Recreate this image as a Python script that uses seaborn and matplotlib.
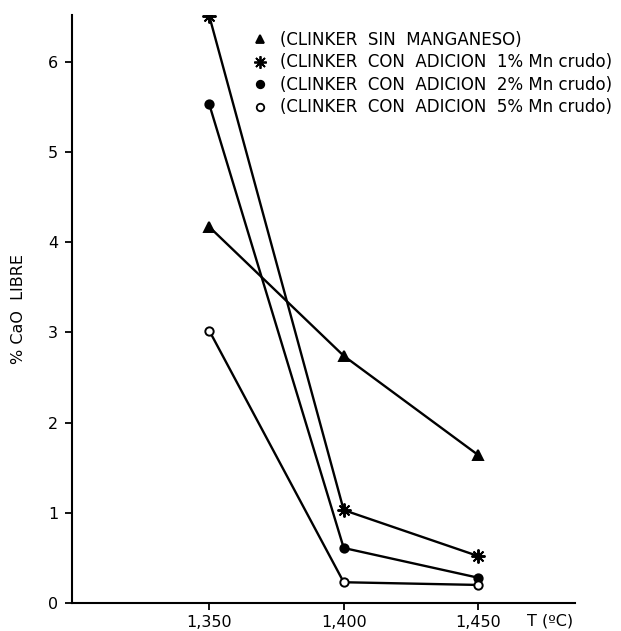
import matplotlib
matplotlib.use("Agg")
import matplotlib.pyplot as plt
from matplotlib.lines import Line2D
import seaborn as sns
import pandas as pd

temps = [1350, 1400, 1450]
sin_mn = [4.17, 2.74, 1.64]
mn_1 = [6.51, 1.03, 0.52]
mn_2 = [5.53, 0.61, 0.28]
mn_5 = [3.02, 0.23, 0.20]
labels = ["(CLINKER  SIN  MANGANESO)",
          "(CLINKER  CON  ADICION  1% Mn crudo)",
          "(CLINKER  CON  ADICION  2% Mn crudo)",
          "(CLINKER  CON  ADICION  5% Mn crudo)"]
xtick_labels = ["1,350", "1,400", "1,450"]
ytick_vals = [0, 1, 2, 3, 4, 5, 6]

sns.set_theme(style="white")
plt.rcParams['font.family'] = ['DejaVu Sans']
plt.rcParams['text.color'] = 'black'
plt.rcParams['axes.labelcolor'] = 'black'

fig = plt.figure(figsize=(6.21, 6.31), dpi=100)
ax = fig.add_axes([0.116, 0.0444, 0.81, 0.932])

series = [sin_mn, mn_1, mn_2, mn_5]
markers = ["^", (8, 2, 0), "o", "o"]
mfc = ["black", "black", "black", "white"]
msizes = [7, 10, 6, 6]

for vals, m, fc, ms in zip(series, markers, mfc, msizes):
    df = pd.DataFrame({"T": temps, "CaO": vals})
    sns.lineplot(data=df, x="T", y="CaO", ax=ax, color="black", linewidth=1.7,
                 marker=m, markersize=ms, markerfacecolor=fc,
                 markeredgecolor="black", markeredgewidth=1.4, legend=False)

ax.set_xlim(1299, 1486)
ax.set_ylim(0, 6.52)
ax.set_xticks(temps)
ax.set_xticklabels(xtick_labels)
ax.set_yticks(ytick_vals)
ax.set_xlabel("")
ax.set_ylabel("% CaO  LIBRE", fontsize=11.5, labelpad=16)
for s in ["top", "right"]:
    ax.spines[s].set_visible(False)
for s in ["left", "bottom"]:
    ax.spines[s].set_color("black")
    ax.spines[s].set_linewidth(1.5)
ax.tick_params(axis="both", which="both", direction="out", length=5, width=1.3,
               colors="black", labelsize=11.5, bottom=True, left=True)
ax.tick_params(axis="x", pad=4)
ax.tick_params(axis="y", pad=5)

ax.text(1468, -0.2, "T (ºC)", fontsize=11.5, ha="left", va="center", transform=ax.transData)

handles = [Line2D([], [], linestyle="none", marker=m, markersize=ms * 0.9,
                  markerfacecolor=fc, markeredgecolor="black", markeredgewidth=1.3, color="black")
           for m, fc, ms in zip(markers, mfc, msizes)]
leg = ax.legend(handles, labels, loc="upper left", bbox_to_anchor=(0.343, 0.984),
                frameon=False, fontsize=12, handlelength=1.0, handletextpad=0.7,
                labelspacing=0.27, borderaxespad=0)

fig.savefig("out.png", dpi=100)
